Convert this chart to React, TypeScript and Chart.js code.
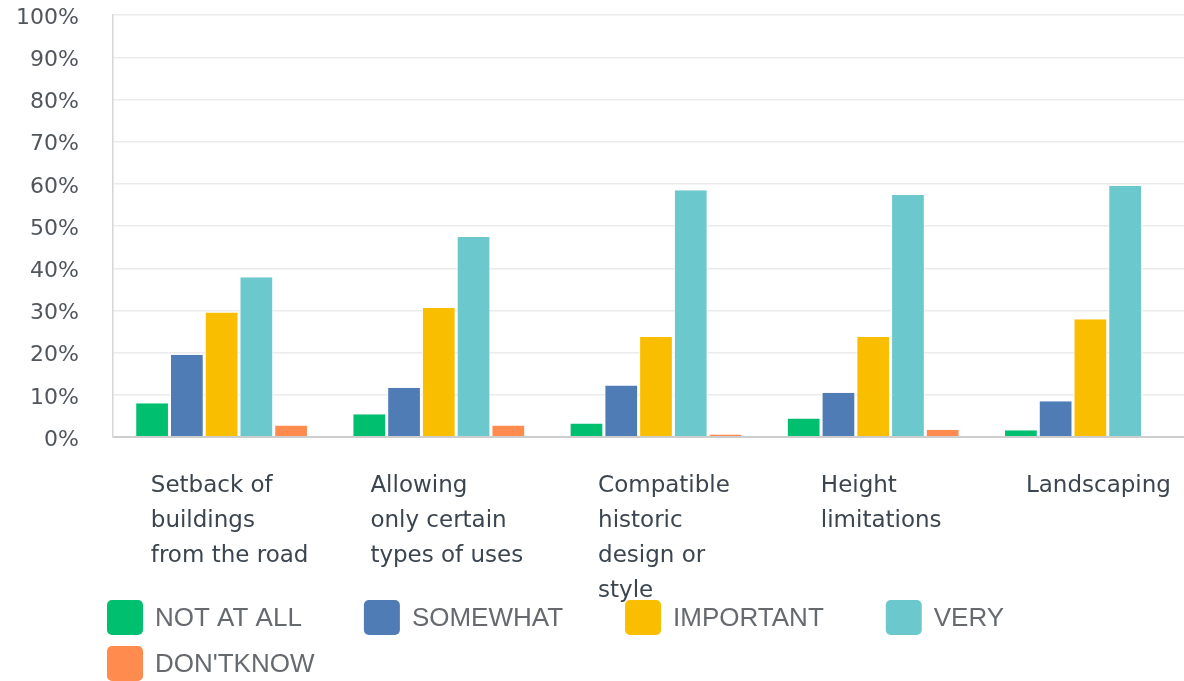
import React, { useEffect, useRef } from "react";
import { Chart, registerables } from "chart.js";

Chart.register(...registerables);

const categoryLines: string[][] = [
  ["Setback of", "buildings", "from the road"],
  ["Allowing", "only certain", "types of uses"],
  ["Compatible", "historic", "design or", "style"],
  ["Height", "limitations"],
  ["Landscaping"],
];
const categories = categoryLines.map((l) => l.join(" "));

const seriesNames = ["NOT AT ALL", "SOMEWHAT", "IMPORTANT", "VERY", "DON'TKNOW"];
const seriesColors = ["#00BF6F", "#507CB6", "#F9BE00", "#6BC8CD", "#FF8B4F"];

const notAtAll = [8.0, 5.4, 3.2, 4.4, 1.6];
const somewhat = [19.5, 11.7, 12.2, 10.5, 8.5];
const important = [29.5, 30.6, 23.7, 23.7, 27.9];
const very = [37.9, 47.4, 58.5, 57.4, 59.5];
const dontKnow = [2.7, 2.7, 0.6, 1.7, 0];

const seriesValues = [notAtAll, somewhat, important, very, dontKnow];

const categoryLabelPlugin = {
  id: "categoryLabels",
  afterDraw(chart: any) {
    const ctx = chart.ctx;
    const xs = chart.scales.x;
    const bottom = chart.chartArea.bottom;
    ctx.save();
    ctx.font = '23px "DejaVu Sans"';
    ctx.fillStyle = "#3b4550";
    ctx.textAlign = "left";
    ctx.textBaseline = "alphabetic";
    categoryLines.forEach((lines, i) => {
      const center = xs.getPixelForValue(i);
      const maxW = Math.max(...lines.map((t) => ctx.measureText(t).width));
      const left = center - maxW / 2 + 8;
      lines.forEach((t, j) => {
        ctx.fillText(t, left, bottom + 54.5 + j * 35.3);
      });
    });
    ctx.restore();
  },
};

const legendPlugin = {
  id: "customLegend",
  afterDraw(chart: any) {
    const ctx = chart.ctx;
    ctx.save();
    ctx.font = '26px "Liberation Sans"';
    ctx.textBaseline = "middle";
    ctx.textAlign = "left";
    const startX = 107;
    let x = startX;
    let y = 600;
    const boxW = 36;
    const boxH = 35;
    const gap = 61;
    const maxRight = 1184;
    chart.data.datasets.forEach((ds: any) => {
      const tw = ctx.measureText(ds.label).width;
      const w = boxW + 13 + tw;
      if (x !== startX && x + w > maxRight) {
        x = startX;
        y += 46;
      }
      ctx.fillStyle = ds.backgroundColor;
      ctx.beginPath();
      (ctx as any).roundRect(x, y, boxW, boxH, 5);
      ctx.fill();
      ctx.fillStyle = "#666a6e";
      ctx.fillText(ds.label, x + boxW + 12, y + boxH / 2 + 1);
      x += w + gap;
    });
    ctx.restore();
  },
};

export default function App() {
  const canvasRef = useRef<HTMLCanvasElement | null>(null);

  useEffect(() => {
    const canvas = canvasRef.current;
    if (!canvas) return;
    const chart = new Chart(canvas, {
      type: "bar",
      data: {
        labels: categories,
        datasets: seriesNames.map((name, i) => ({
          label: name,
          data: seriesValues[i],
          backgroundColor: seriesColors[i],
          borderColor: "rgba(255,255,255,0.85)",
          borderWidth: { left: 1, right: 1, top: 0, bottom: 0 },
          barPercentage: 0.97,
          categoryPercentage: 0.8,
        })),
      },
      options: {
        responsive: false,
        animation: false,
        devicePixelRatio: 1,
        layout: { padding: { top: 15, left: 0, right: 0, bottom: 0 } },
        plugins: {
          legend: { display: false },
          tooltip: { enabled: false },
        },
        scales: {
          x: {
            grid: { display: false },
            border: { display: false },
            ticks: { display: false },
            afterFit: (s: any) => {
              s.height = 244;
            },
          },
          y: {
            min: 0,
            max: 100,
            ticks: {
              stepSize: 10,
              padding: 2,
              labelOffset: 3,
              color: "#50565c",
              font: { family: "DejaVu Sans", size: 22 },
              callback: (v: any) => v + "%",
            },
            grid: {
              drawTicks: true,
              tickLength: 32,
              tickColor: "rgba(0,0,0,0)",
              color: (c: any) => (c.tick && c.tick.value === 0 ? "#cdcdcd" : "#ebebeb"),
              lineWidth: (c: any) => (c.tick && c.tick.value === 0 ? 2 : 1.5),
            },
            border: { display: true, color: "#d6d6d6", width: 1.5 },
            afterFit: (s: any) => {
              s.width = 113;
            },
          },
        },
      },
      plugins: [categoryLabelPlugin, legendPlugin],
    });
    return () => chart.destroy();
  }, []);

  return (
    <div
      style={{
        position: "fixed",
        left: 0,
        top: 0,
        width: 1184,
        height: 681,
        overflow: "hidden",
        background: "#fff",
      }}
    >
      <canvas ref={canvasRef} width={1199} height={681} style={{ display: "block" }} />
    </div>
  );
}
